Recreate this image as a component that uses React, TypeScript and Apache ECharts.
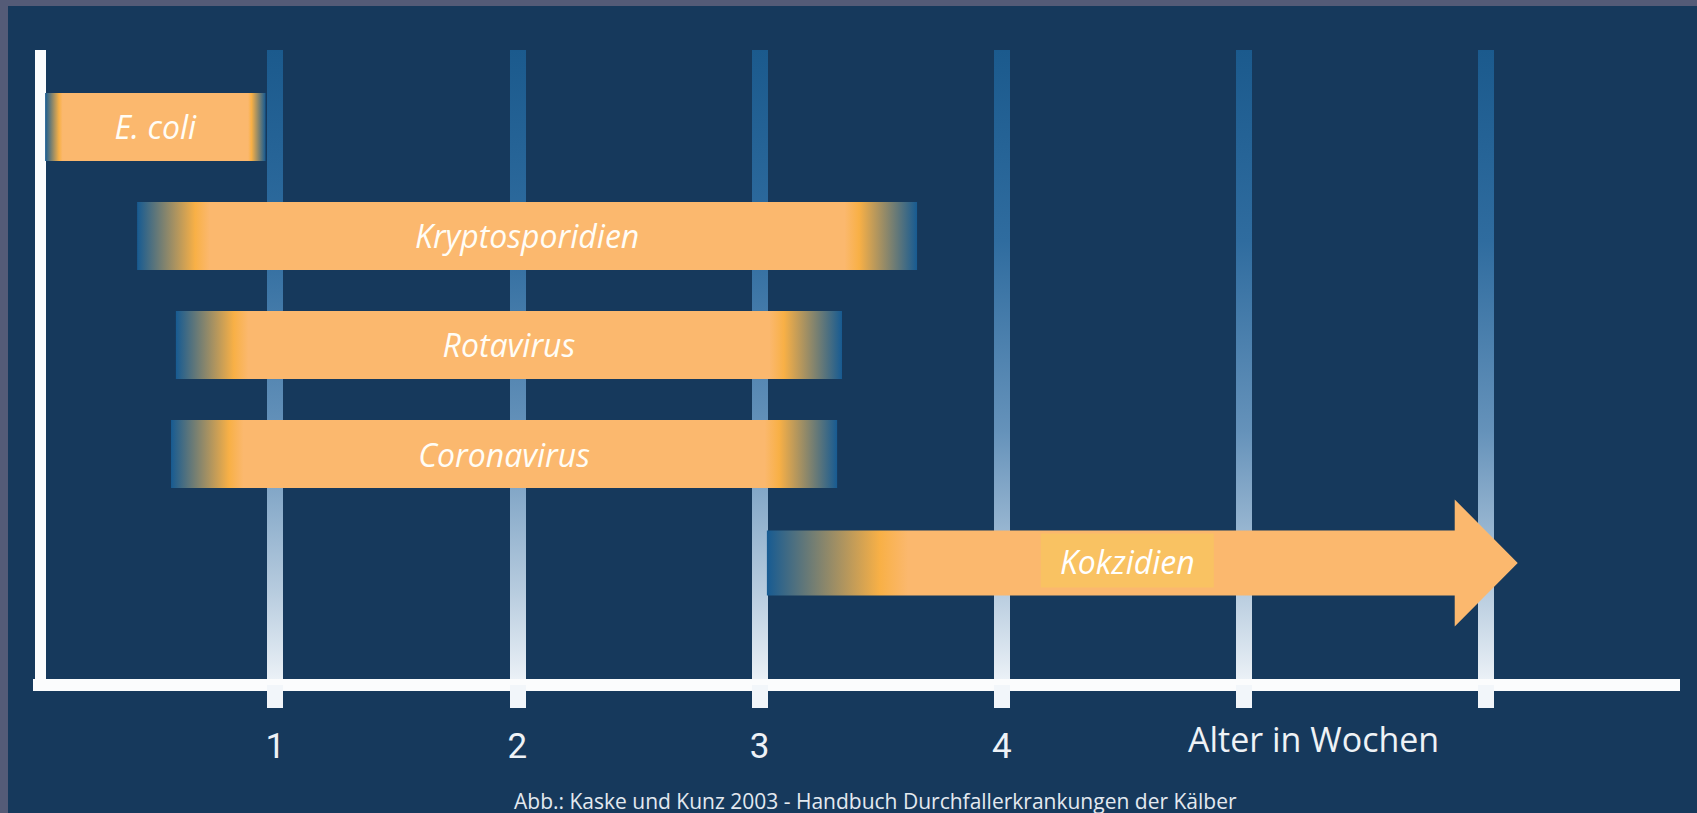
import React, { useEffect, useRef } from "react";
import * as echarts from "echarts";

// ---- data ----
const categories = ["E. coli", "Kryptosporidien", "Rotavirus", "Coronavirus", "Kokzidien"];
const startWeek = [0.05, 0.43, 0.59, 0.57, 3.03];
const endWeek = [0.96, 3.65, 3.34, 3.32, 6.13];
const openEnded = [false, false, false, false, true];
const tickWeeks = [1, 2, 3, 4, 5, 6];
const labelWeeks = [1, 2, 3, 4];
const axisTitle = "Alter in Wochen";
const sourceNote = "Abb.: Kaske und Kunz 2003 - Handbuch Durchfallerkrankungen der Kälber";

// ---- styles ----
const NAVY = "#16395c";
const FRAME = "#545b77";
const BLUE_END = "#175b92";
const ORANGE = "#f8b046";
const PEACH = "#fbb86e";
const LABEL_BOX = "#f9c262";
const FADE_PX = [14, 58, 58, 58, 113];
const BAR_THICK = 0.624; // in row units
const HEAD_LEN = 63;
const HEAD_HALF = 63.5;
const TEXT_FONT = "'Open Sans', 'Noto Sans', sans-serif";

export default function App() {
  const ref = useRef<HTMLDivElement>(null);

  useEffect(() => {
    if (!ref.current) return;
    const chart = echarts.init(ref.current, undefined, { renderer: "svg" });

    const data = categories.map((_, i) => [startWeek[i], endWeek[i], i]);

    const renderItem = (params: any, api: any) => {
      const i = params.dataIndex;
      const s = api.coord([api.value(0), api.value(2)]);
      const e = api.coord([api.value(1), api.value(2)]);
      const h = api.size([0, BAR_THICK])[1];
      const x0 = s[0];
      const x1 = e[0];
      const yc = s[1];
      const w = x1 - x0;
      const fade = FADE_PX[i];
      const a = fade / w;
      const b = (fade * 1.25) / w;
      const children: any[] = [];
      const textStyle = {
        text: categories[i],
        fill: "#fffdf6",
        fontSize: 32,
        fontStyle: "italic",
        fontFamily: TEXT_FONT,
        align: "center",
        verticalAlign: "middle",
        textAlign: "center",
        textVerticalAlign: "middle",
      };
      if (!openEnded[i]) {
        const grad = new echarts.graphic.LinearGradient(0, 0, 1, 0, [
          { offset: 0, color: BLUE_END },
          { offset: a, color: ORANGE },
          { offset: b, color: PEACH },
          { offset: 1 - b, color: PEACH },
          { offset: 1 - a, color: ORANGE },
          { offset: 1, color: BLUE_END },
        ]);
        children.push({
          type: "rect",
          shape: { x: x0, y: yc - h / 2, width: w, height: h },
          style: { fill: grad },
        });
        children.push({ type: "text", x: (x0 + x1) / 2, y: yc, style: textStyle });
      } else {
        const bodyHalf = h / 2 - 1.5;
        const xh = x1 - HEAD_LEN;
        const grad = new echarts.graphic.LinearGradient(0, 0, 1, 0, [
          { offset: 0, color: BLUE_END },
          { offset: a, color: ORANGE },
          { offset: b, color: PEACH },
          { offset: 1, color: PEACH },
        ]);
        children.push({
          type: "polygon",
          shape: {
            points: [
              [x0, yc - bodyHalf],
              [xh, yc - bodyHalf],
              [xh, yc - HEAD_HALF],
              [x1, yc],
              [xh, yc + HEAD_HALF],
              [xh, yc + bodyHalf],
              [x0, yc + bodyHalf],
            ],
          },
          style: { fill: grad },
        });
        const cx = x0 + 0.48 * w;
        children.push({
          type: "rect",
          shape: { x: cx - 86.5, y: yc - 29.5, width: 173, height: 54 },
          style: { fill: LABEL_BOX },
        });
        children.push({
          type: "text",
          x: cx,
          y: yc - 2,
          style: { ...textStyle, fill: "#ffffff" },
        });
      }
      return { type: "group", children };
    };

    const option: any = {
      animation: false,
      backgroundColor: NAVY,
      title: {
        text: sourceNote,
        left: 509,
        top: 785,
        textStyle: {
          color: "#e3e9f0",
          fontSize: 21,
          fontWeight: "normal",
          fontFamily: TEXT_FONT,
        },
      },
      grid: { left: 33, right: 17, top: 50, bottom: 128, containLabel: false },
      xAxis: {
        type: "value",
        min: 0,
        max: 6.8,
        interval: 1,
        axisLine: {
          show: true,
          onZero: false,
          lineStyle: { color: "#fbfcfd", width: 12, cap: "butt" },
        },
        axisTick: {
          show: true,
          customValues: tickWeeks,
          length: 23,
          lineStyle: { color: "#f2f6fa", width: 16, cap: "butt" },
        },
        axisLabel: {
          customValues: labelWeeks,
          color: "#eef2f7",
          fontSize: 35,
          fontFamily: "Roboto, sans-serif",
          margin: 44,
        },
        splitLine: {
          show: true,
          showMinLine: true,
          showMaxLine: true,
          lineStyle: {
            width: 16,
            cap: "butt",
            color: new echarts.graphic.LinearGradient(
              0,
              50,
              0,
              685,
              [
                { offset: 0, color: "#1b5a8d" },
                { offset: 0.3, color: "#2f6c9f" },
                { offset: 0.6, color: "#6592ba" },
                { offset: 0.85, color: "#b6cbde" },
                { offset: 1, color: "#eef3f8" },
              ],
              true
            ),
          },
        },
      },
      yAxis: {
        type: "value",
        inverse: true,
        min: -0.706,
        max: 5.119,
        offset: -7,
        axisLine: {
          show: true,
          onZero: false,
          lineStyle: { color: "#fbfcfd", width: 11, cap: "butt" },
        },
        axisTick: { show: false },
        axisLabel: { show: false },
        splitLine: { show: false },
      },
      graphic: [
        {
          type: "rect",
          silent: true,
          shape: { x: 0, y: 0, width: 8, height: 813 },
          style: { fill: FRAME },
        },
        {
          type: "rect",
          silent: true,
          shape: { x: 0, y: 0, width: 1697, height: 6 },
          style: { fill: FRAME },
        },
        {
          type: "text",
          x: 1188,
          y: 739,
          style: {
            text: axisTitle,
            fill: "#eef2f6",
            fontSize: 34,
            fontFamily: TEXT_FONT,
            align: "left",
            verticalAlign: "middle",
            textAlign: "left",
            textVerticalAlign: "middle",
          },
        },
      ],
      series: [
        {
          type: "custom",
          renderItem,
          encode: { x: [0, 1], y: 2 },
          data,
          clip: false,
          z: 5,
        },
      ],
    };

    chart.setOption(option);
    return () => chart.dispose();
  }, []);

  return (
    <div
      ref={ref}
      style={{ position: "fixed", left: 0, top: 0, width: 1697, height: 813 }}
    />
  );
}
